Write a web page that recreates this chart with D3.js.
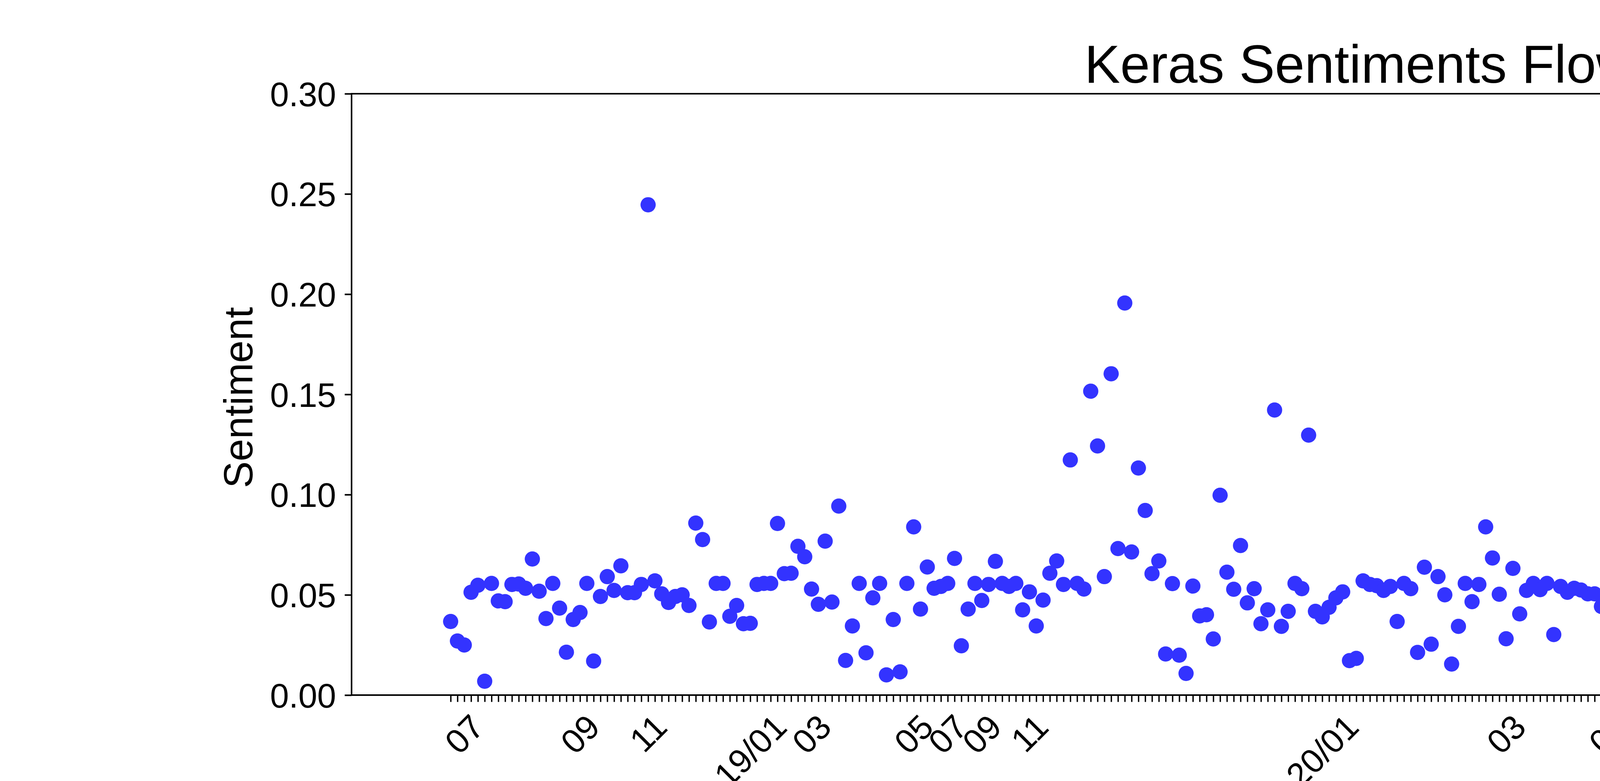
<!DOCTYPE html>
<html>
<head>
<meta charset="utf-8">
<script src="https://cdn.jsdelivr.net/npm/d3@7"></script>
<style>
  body { margin: 0; background: #fff; }
  text { font-family: "Liberation Sans", Arial, sans-serif; fill: #000; }
</style>
</head>
<body>
<div id="chart"></div>
<script>
// sentiment value per post, in posting order (x = index)
const sentiments = [
  0.0367, 0.0270, 0.0250, 0.0513, 0.0548, 0.0069, 0.0557, 0.0470, 0.0466, 0.0552,
  0.0554, 0.0533, 0.0679, 0.0518, 0.0382, 0.0557, 0.0434, 0.0214, 0.0377, 0.0412,
  0.0557, 0.0170, 0.0492, 0.0591, 0.0522, 0.0645, 0.0511, 0.0511, 0.0552, 0.2446,
  0.0570, 0.0505, 0.0462, 0.0492, 0.0500, 0.0447, 0.0858, 0.0776, 0.0365, 0.0557,
  0.0557, 0.0393, 0.0447, 0.0356, 0.0358, 0.0552, 0.0557, 0.0557, 0.0856, 0.0606,
  0.0608, 0.0742, 0.0690, 0.0529, 0.0453, 0.0768, 0.0464, 0.0943, 0.0173, 0.0345,
  0.0557, 0.0211, 0.0485, 0.0557, 0.0101, 0.0377, 0.0116, 0.0557, 0.0839, 0.0429,
  0.0639, 0.0533, 0.0542, 0.0557, 0.0682, 0.0246, 0.0429, 0.0557, 0.0472, 0.0552,
  0.0667, 0.0557, 0.0542, 0.0557, 0.0425, 0.0515, 0.0345, 0.0474, 0.0608, 0.0669,
  0.0552, 0.1173, 0.0557, 0.0529, 0.1516, 0.1243, 0.0591, 0.1603, 0.0731, 0.1956,
  0.0714, 0.1133, 0.0921, 0.0606, 0.0669, 0.0205, 0.0556, 0.0199, 0.0108, 0.0544,
  0.0395, 0.0401, 0.0280, 0.0997, 0.0613, 0.0528, 0.0746, 0.0460, 0.0531, 0.0356,
  0.0425, 0.1422, 0.0343, 0.0418, 0.0557, 0.0531, 0.1297, 0.0418, 0.0390, 0.0438,
  0.0485, 0.0515, 0.0172, 0.0183, 0.0570, 0.0552, 0.0546, 0.0522, 0.0542, 0.0367,
  0.0557, 0.0531, 0.0213, 0.0638, 0.0254, 0.0591, 0.0500, 0.0155, 0.0343, 0.0557,
  0.0466, 0.0552, 0.0839, 0.0684, 0.0503, 0.0281, 0.0632, 0.0405, 0.0522, 0.0557,
  0.0526, 0.0557, 0.0302, 0.0542, 0.0513, 0.0533, 0.0524, 0.0505, 0.0505, 0.0442,
  0.0473, 0.0354, 0.0339, 0.0557, 0.0265, 0.0485, 0.0211, 0.0362, 0.0552, 0.0459,
  0.0537, 0.0701, 0.0552, 0.0503, 0.0268, 0.0643, 0.0921, 0.0405, 0.0951, 0.0647,
  0.0673, 0.1145, 0.0837, 0.0447, 0.0727, 0.0686, 0.0893, 0.1286, 0.0647, 0.0214,
  0.0997, 0.0649, 0.0231, 0.0552, 0.0720, 0.0268, 0.0334, 0.0468, 0.0291, 0.0895,
  0.0487, 0.1855, 0.0751, 0.0462, 0.0326, 0.0235, 0.1788, 0.0384, 0.0175, 0.0692,
  0.0671, 0.0557, 0.1413, 0.0515, 0.0755, 0.0317, 0.0882, 0.0455, 0.0557, 0.0643,
  0.0488, 0.0533, 0.0649, 0.0515, 0.0436, 0.0490, 0.0501, 0.0608, 0.0423, 0.0645,
  0.0541, 0.0638, 0.0447, 0.0833, 0.0943, 0.0759, 0.0522, 0.0626, 0.0529, 0.0287,
  0.0762, 0.0485, 0.0688, 0.0503, 0.0388, 0.0328, 0.0242, 0.0542, 0.0358, 0.0556,
  0.0699, 0.0507, 0.0326, 0.0684, 0.0548, 0.0557, 0.0503, 0.0460, 0.0432, 0.0473,
  0.0583, 0.0328, 0.0248, 0.1312, 0.0552, 0.0356, 0.0218, 0.0460, 0.0641, 0.0341,
  0.0289, 0.0511, 0.0501, 0.1378, 0.0449, 0.0477, 0.0557, 0.0326, 0.0912, 0.0537,
  0.0460, 0.0552
];

// the axis only carries a tick for the first 274 positions
const tickCount = 274;

// labelled ticks: [position, label]
const monthLabels = [
  [2, "07"], [19, "09"], [29, "11"], [44, "19/01"], [53, "03"], [68, "05"],
  [73, "07"], [78, "09"], [85, "11"], [128, "20/01"], [155, "03"], [170, "05"],
  [175, "07"], [184, "09"], [203, "11"], [217, "21/01"], [225, "03"], [247, "05"]
];

const yTicks = [0, 0.05, 0.10, 0.15, 0.20, 0.25, 0.30];

const width = 7200, height = 2000;
const margin = {top: 240, right: 720, bottom: 220, left: 900};
const plotW = width - margin.left - margin.right,
      plotH = height - margin.top - margin.bottom;

const pointColour = "#3333ff";
const tickFont = 87;

const svg = d3.select("#chart")
  .append("svg")
    .attr("width", width)
    .attr("height", height)
    .style("background", "#fff");

const g = svg.append("g")
    .attr("transform", `translate(${margin.left}, ${margin.top})`);

// x: index positions with matplotlib style 5% padding
const n = sentiments.length;
const pad = (n - 1) * 0.05;
const x = d3.scaleLinear().domain([-pad, n - 1 + pad]).range([0, plotW]);
const y = d3.scaleLinear().domain([0, 0.30]).range([plotH, 0]);

// points
g.selectAll("circle.pt")
  .data(sentiments)
  .join("circle")
    .attr("class", "pt")
    .attr("cx", (d, i) => x(i))
    .attr("cy", d => y(d))
    .attr("r", 19.5)
    .style("fill", pointColour);

// x ticks (one per position, only some labelled)
const xAxis = d3.axisBottom(x)
  .tickValues(d3.range(tickCount))
  .tickSize(17.5)
  .tickFormat("");

const xg = g.append("g")
    .attr("transform", `translate(0, ${plotH})`)
    .call(xAxis);
xg.select(".domain").remove();
xg.selectAll(".tick line").attr("stroke", "#000").attr("stroke-width", 3.5);

// rotated labels, centred on the tick like matplotlib does
const labelTop = plotH + 17.5 + 17.5;
monthLabels.forEach(function(m) {
  const t = g.append("text")
    .text(m[1])
    .style("font-size", tickFont + "px")
    .attr("text-anchor", "middle")
    .attr("dominant-baseline", "central");
  const w = t.node().getComputedTextLength();
  const half = (w + tickFont * 1.0) / (2 * Math.SQRT2);
  t.attr("transform", `translate(${x(m[0])}, ${labelTop + half}) rotate(-45)`);
});

// y axis
const yAxis = d3.axisLeft(y)
  .tickValues(yTicks)
  .tickSize(17.5)
  .tickPadding(22)
  .tickFormat(d3.format(".2f"));

const yg = g.append("g").call(yAxis);
yg.select(".domain").remove();
yg.selectAll(".tick line").attr("stroke", "#000").attr("stroke-width", 4);
yg.selectAll(".tick text")
  .style("font-size", tickFont + "px")
  .style("font-family", "'Liberation Sans', Arial, sans-serif")
  .attr("fill", "#000")
  .attr("dy", "0.36em");

// frame
g.append("rect")
  .attr("width", plotW)
  .attr("height", plotH)
  .style("fill", "none")
  .style("stroke", "#000")
  .style("stroke-width", 4);

// title
svg.append("text")
  .attr("x", margin.left + plotW / 2)
  .attr("y", 212)
  .attr("text-anchor", "middle")
  .style("font-size", "137px")
  .text("Keras Sentiments Flow Graph");

// y label
svg.append("text")
  .attr("transform", `translate(646, ${margin.top + plotH / 2 + 8}) rotate(-90)`)
  .attr("text-anchor", "middle")
  .style("font-size", "103px")
  .text("Sentiment");

// legend
const legend = svg.append("g");
legend.append("rect")
  .attr("x", 5963).attr("y", 266)
  .attr("width", 490).attr("height", 100)
  .attr("rx", 10)
  .style("fill", "#fff")
  .style("stroke", "#d9d9d9")
  .style("stroke-width", 4);
legend.append("circle")
  .attr("cx", 6043).attr("cy", 311)
  .attr("r", 19.5)
  .style("fill", pointColour);
legend.append("text")
  .attr("x", 6147).attr("y", 332)
  .style("font-size", "56px")
  .text("Sentiments");
</script>
</body>
</html>
